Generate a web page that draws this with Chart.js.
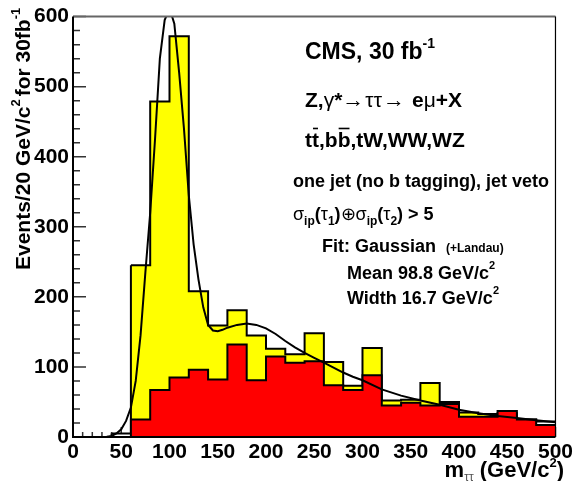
<!DOCTYPE html>
<html>
<head>
<meta charset="utf-8">
<script src="https://cdn.jsdelivr.net/npm/chart.js@4.4.1/dist/chart.umd.min.js"></script>
<style>
body { margin: 0; background: #fff; }
#wrap { width: 576px; height: 481px; }
</style>
</head>
<body>
<div id="wrap"><canvas id="c" width="576" height="481"></canvas></div>
<script>
// bins of 20 GeV, low edges
var binLow = [0, 20, 40, 60, 80, 100, 120, 140, 160, 180, 200, 220, 240, 260, 280, 300, 320, 340, 360, 380, 400, 420, 440, 460, 480];
var binEnd = 500;
// all processes (yellow)
var allEvents = [0, 0, 5, 245, 479, 572, 208, 159, 181, 145, 126, 118, 148, 107, 73, 127, 52, 53, 77, 50, 35, 33, 34, 25, 22];
// Z -> tautau (red)
var zEvents = [0, 0, 0, 25, 67, 85, 96, 82, 132, 81, 115, 106, 108, 74, 67, 88, 45, 49, 45, 47, 29, 29, 37, 25, 17];
// fit curve
var fitMass = [0, 10, 20, 30, 35, 40, 45, 50, 55, 60, 65, 70, 75, 80, 85, 90, 95, 100, 105, 110, 115, 120, 125, 130, 135, 140, 145, 150, 155, 160, 170, 180, 190, 200, 210, 220, 230, 240, 250, 260, 270, 280, 290, 300, 320, 340, 360, 380, 400, 420, 440, 460, 480, 500];
var fitValue = [0, 0, 0, 0, 0.5, 1.5, 5, 11, 23, 42, 80, 145, 235, 320, 425, 540, 595, 612, 590, 520, 440, 345, 275, 225, 185, 160, 152, 151, 153, 156, 160, 162, 160, 155, 147, 137, 128, 120, 113, 106, 99, 92, 86, 81, 68, 59, 52, 46, 39, 34, 30, 27, 24, 21];
var xTicks = [0, 50, 100, 150, 200, 250, 300, 350, 400, 450, 500];
var yTicks = [0, 100, 200, 300, 400, 500, 600];
var whiteBins = [2, 24];

var FONT = '"Liberation Sans", Arial, sans-serif';

function histPoints(vals) {
  var pts = binLow.map(function (m, i) { return { x: m, y: vals[i] }; });
  pts.push({ x: binEnd, y: vals[vals.length - 1] });
  return pts;
}

function drawRich(ctx, x, y, parts) {
  parts.forEach(function (p) {
    ctx.font = (p.normal ? '' : 'bold ') + p.s + 'px ' + FONT;
    ctx.fillStyle = p.c || '#000';
    var w = ctx.measureText(p.t).width;
    ctx.fillText(p.t, x, y + (p.dy || 0));
    if (p.bar) ctx.fillRect(x + 1, y - p.s * 0.92, w - 2, 1.6);
    x += w + (p.gap || 0);
  });
}

function richWidth(ctx, parts) {
  var w = 0;
  parts.forEach(function (p) {
    ctx.font = (p.normal ? '' : 'bold ') + p.s + 'px ' + FONT;
    w += ctx.measureText(p.t).width + (p.gap || 0);
  });
  return w;
}

var frameAndTicks = {
  id: 'frameAndTicks',
  beforeDatasetsDraw: function (chart) {
    var ctx = chart.ctx, a = chart.chartArea;
    var xs = chart.scales.x, ys = chart.scales.y;
    ctx.save();
    ctx.strokeStyle = '#333';
    ctx.lineWidth = 1.5;
    ctx.beginPath();
    for (var v = 0; v <= 600; v += 20) {
      var py = ys.getPixelForValue(v);
      ctx.moveTo(a.left, py);
      ctx.lineTo(a.left + (v % 100 === 0 ? 13 : 7), py);
    }
    for (var m = 0; m <= 500; m += 10) {
      var px = xs.getPixelForValue(m);
      ctx.moveTo(px, a.bottom);
      ctx.lineTo(px, a.bottom - (m % 50 === 0 ? 10 : 5));
    }
    ctx.stroke();
    ctx.restore();
  },
  afterDatasetsDraw: function (chart) {
    var ctx = chart.ctx, a = chart.chartArea;
    ctx.save();
    ctx.lineWidth = 2;
    ctx.strokeStyle = '#666';
    ctx.beginPath();
    ctx.moveTo(a.left, a.top);
    ctx.lineTo(a.right, a.top);
    ctx.stroke();
    ctx.strokeStyle = '#000';
    ctx.lineWidth = 1.2;
    ctx.beginPath();
    ctx.moveTo(a.right, a.top);
    ctx.lineTo(a.right, a.bottom);
    ctx.stroke();
    ctx.lineWidth = 2;
    ctx.beginPath();
    ctx.moveTo(a.left, a.top);
    ctx.lineTo(a.left, a.bottom);
    ctx.lineTo(a.right, a.bottom);
    ctx.stroke();
    ctx.restore();
  },
  afterDraw: function (chart) {
    var ctx = chart.ctx;
    ctx.save();
    ctx.textBaseline = 'alphabetic';
    ctx.textAlign = 'left';

    drawRich(ctx, 305, 59, [{ t: 'CMS, 30 fb', s: 23 }, { t: '-1', s: 14, dy: -11 }]);
    drawRich(ctx, 305, 107, [
      { t: 'Z,', s: 21 }, { t: 'γ', s: 21, normal: true }, { t: '*', s: 21 },
      { t: '→', s: 22, normal: true, gap: 1 }, { t: 'ττ', s: 21, normal: true, gap: 1 },
      { t: '→ ', s: 22, normal: true, gap: 1 }, { t: 'e', s: 21 }, { t: 'μ', s: 21, normal: true }, { t: '+X', s: 21 }
    ]);
    drawRich(ctx, 305, 147, [
      { t: 't', s: 21 }, { t: 't', s: 21, bar: true }, { t: ',b', s: 21 }, { t: 'b', s: 21, bar: true },
      { t: ',tW,WW,WZ', s: 21 }
    ]);
    drawRich(ctx, 293, 187, [{ t: 'one jet (no b tagging), jet veto', s: 18 }]);
    drawRich(ctx, 293, 220, [
      { t: 'σ', s: 18, normal: true }, { t: 'ip', s: 12, dy: 5 }, { t: '(', s: 18 }, { t: 'τ', s: 18, normal: true },
      { t: '1', s: 12, dy: 5 }, { t: ')', s: 18 }, { t: '⊕', s: 18, normal: true },
      { t: 'σ', s: 18, normal: true }, { t: 'ip', s: 12, dy: 5 }, { t: '(', s: 18 }, { t: 'τ', s: 18, normal: true },
      { t: '2', s: 12, dy: 5 }, { t: ') > 5', s: 18 }
    ]);
    drawRich(ctx, 322, 252, [{ t: 'Fit: Gaussian  ', s: 18 }, { t: '(+Landau)', s: 12 }]);
    drawRich(ctx, 347, 279, [{ t: 'Mean 98.8 GeV/c', s: 18 }, { t: '2', s: 11, dy: -10 }]);
    drawRich(ctx, 347, 304, [{ t: 'Width 16.7 GeV/c', s: 18 }, { t: '2', s: 11, dy: -10 }]);

    // x title, right aligned
    var xt = [
      { t: 'm', s: 22 }, { t: 'ττ', s: 12, normal: true, dy: 4, c: '#555' }, { t: ' (GeV/c', s: 22 },
      { t: '2', s: 13, dy: -10 }, { t: ')', s: 22 }
    ];
    drawRich(ctx, 564 - richWidth(ctx, xt), 477, xt);

    // y title, rotated
    var yt = [
      { t: 'Events/20 GeV/c', s: 21 }, { t: '2', s: 13, dy: -10, gap: 3 }, { t: 'for 30fb', s: 21 },
      { t: '-1', s: 13, dy: -10 }
    ];
    ctx.translate(30, 270);
    ctx.rotate(-Math.PI / 2);
    drawRich(ctx, 0, 0, yt);
    ctx.restore();
  }
};

new Chart(document.getElementById('c'), {
  type: 'line',
  data: {
    datasets: [{
      label: 'all',
      data: histPoints(allEvents),
      stepped: true,
      fill: 'origin',
      backgroundColor: '#ffff00',
      borderColor: '#000',
      borderWidth: 2,
      pointRadius: 0,
      order: 3,
      segment: {
        backgroundColor: function (c) { return whiteBins.indexOf(c.p0DataIndex) >= 0 ? '#ffffff' : undefined; }
      }
    }, {
      label: 'Z',
      data: histPoints(zEvents),
      stepped: true,
      fill: 'origin',
      backgroundColor: '#ff0000',
      borderColor: '#000',
      borderWidth: 2,
      pointRadius: 0,
      order: 2
    }, {
      label: 'fit',
      data: fitMass.map(function (m, i) { return { x: m, y: fitValue[i] }; }),
      fill: false,
      tension: 0,
      borderColor: '#000',
      borderWidth: 2,
      pointRadius: 0,
      order: 1
    }]
  },
  options: {
    responsive: false,
    animation: false,
    devicePixelRatio: 1,
    layout: { padding: { top: 15, right: 20, left: 0, bottom: 0 } },
    plugins: { legend: { display: false }, tooltip: { enabled: false } },
    scales: {
      x: {
        type: 'linear', min: 0, max: 500,
        afterBuildTicks: function (s) { s.ticks = xTicks.map(function (v) { return { value: v }; }); },
        afterFit: function (s) { s.height = 44; },
        grid: { display: false, drawTicks: false },
        border: { display: false },
        ticks: { color: '#000', padding: 3, maxRotation: 0, font: { family: FONT, size: 21, weight: 'bold' } }
      },
      y: {
        type: 'linear', min: 0, max: 600,
        afterBuildTicks: function (s) { s.ticks = yTicks.map(function (v) { return { value: v }; }); },
        afterFit: function (s) { s.width = 73; },
        grid: { display: false, drawTicks: false },
        border: { display: false },
        ticks: { color: '#000', padding: 4, font: { family: FONT, size: 21, weight: 'bold' } }
      }
    }
  },
  plugins: [frameAndTicks]
});
</script>
</body>
</html>
